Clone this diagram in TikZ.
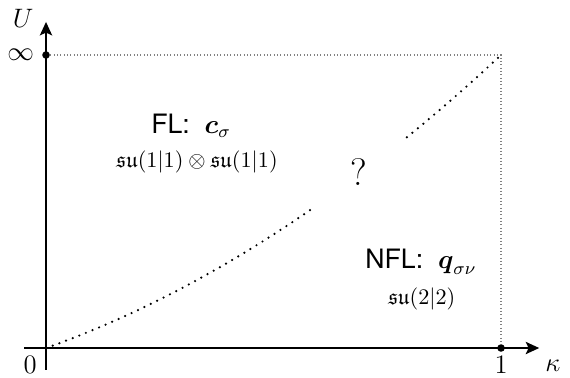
\documentclass[tikz,border=0pt]{standalone}
\usepackage{amsmath,amssymb}
\usepackage{fontspec}
\setsansfont{TeX Gyre Heros}
\usepackage{tikz}
\usetikzlibrary{positioning,arrows.meta}

\begin{document}
\begin{tikzpicture}[
  x=204.75pt, y=131.85pt,
  axis/.style={line width=1.2pt, -{Stealth[length=6pt, width=5.4pt, inset=1.2pt]}},
  frame/.style={densely dotted, gray, line width=0.5pt},
  crossover/.style={line width=1.1pt, line cap=round, dash pattern=on 0pt off 3.2pt},
  pt/.style={circle, fill, inner sep=0pt, minimum size=3.4pt},
  lab/.style={font=\large},
  phase/.style={font=\sffamily\large, align=center},
  alg/.style={font=\normalsize, align=center}
]
\useasboundingbox (-0.1011,-0.099) rectangle (1.1516,1.1877);

% axes
\coordinate (O) at (0,0);
\coordinate (xend) at (1.084,0);
\coordinate (yend) at (0,1.113);
\draw[axis] (-0.048,0) -- (xend);
\draw[axis] (0,-0.075) -- (yend);

\node[pt] (inf) at (0,1) {};
\node[pt] (one) at (1,0) {};
\coordinate (corner) at (1,1);
\draw[frame] (inf) -- (corner) -- (one);

% labels on axes
\node[lab] (U) at (-0.05,1.126) {$U$};
\node[lab, left=0pt of inf] (inflbl) {$\infty$};
\node[lab] (zero) at (-0.035,-0.058) {$0$};
\node[lab] (onelbl) at (1,-0.058) {$1$};
\node[lab] (kappa) at (1.114,-0.061) {$\kappa$};

% crossover line, unknown in the middle
\draw[crossover] plot[domain=0:0.587, samples=40] (\x,{0.55*\x+0.45*\x*\x});
\draw[crossover] plot[domain=0.793:1, samples=20] (\x,{0.55*\x+0.45*\x*\x});

\node[phase] (fl) at (0.319,0.758) {FL:\ \ $\boldsymbol{c}_\sigma$};
\node[alg] (flalg) at (0.332,0.635) {$\mathfrak{su}(1|1)\otimes\mathfrak{su}(1|1)$};
\node[font=\LARGE] (q) at (0.688,0.601) {?};
\node[phase] (nfl) at (0.824,0.294) {NFL:\ \ $\boldsymbol{q}_{\sigma\nu}$};
\node[alg] (nflalg) at (0.826,0.167) {$\mathfrak{su}(2|2)$};
\end{tikzpicture}
\end{document}
